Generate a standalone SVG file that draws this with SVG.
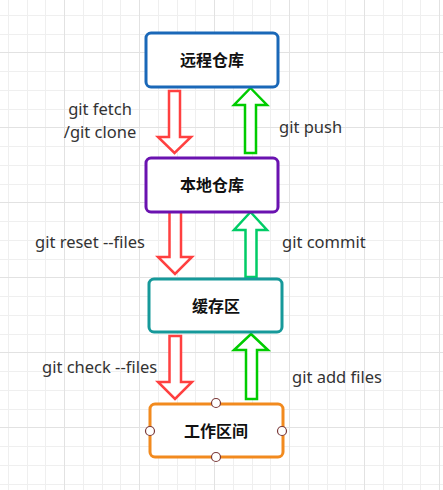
<svg xmlns="http://www.w3.org/2000/svg" width="443" height="490" viewBox="0 0 443 490">
<style>
.minor{stroke:#efefef;stroke-width:1;fill:none}
.major{stroke:#e2e2e2;stroke-width:1;fill:none}
.node rect{fill:#fff;stroke-width:3}
.nlabel{font-family:"Noto Sans CJK SC","Noto Sans",sans-serif;font-size:16px;font-weight:bold;fill:#111;text-anchor:middle}
.elabel{font-family:"Noto Sans","Open Sans",sans-serif;font-size:16.5px;fill:#333}
.arr{fill:#fff;stroke-width:2.5;stroke-linejoin:miter}
.red{stroke:#ff4040}
.grn{stroke:#00cc00}
.grn2{stroke:#00cc66}
.pt{fill:#fff;stroke:#7a3a3a;stroke-width:1.2}
</style>
<rect width="443" height="490" fill="#fff"/>
<g id="grid">
<path class="minor" d="M8.5 0V490M27.5 0V490M45.5 0V490M83.5 0V490M102.5 0V490M120.5 0V490M158.5 0V490M177.5 0V490M195.5 0V490M233.5 0V490M252.5 0V490M270.5 0V490M308.5 0V490M327.5 0V490M345.5 0V490M383.5 0V490M402.5 0V490M420.5 0V490M0 15.5H443M0 34.5H443M0 71.5H443M0 90.5H443M0 109.5H443M0 146.5H443M0 165.5H443M0 184.5H443M0 221.5H443M0 240.5H443M0 259.5H443M0 296.5H443M0 315.5H443M0 334.5H443M0 371.5H443M0 390.5H443M0 409.5H443M0 446.5H443M0 465.5H443M0 484.5H443"/>
<path class="major" d="M64.5 0V490M139.5 0V490M214.5 0V490M289.5 0V490M364.5 0V490M439.5 0V490M0 52.5H443M0 127.5H443M0 202.5H443M0 277.5H443M0 352.5H443M0 427.5H443"/>
</g>
<g id="connectors">
<polygon class="arr red" points="169,91 180,91 180,137 191,137 174.5,153 158,137 169,137"/>
<polygon class="arr grn" points="250.5,88 267,105 256,105 256,153 245,153 245,105 234,105"/>
<polygon class="arr red" points="169.5,211 181,211 181,257 192,257 175,274 158,257 169.5,257"/>
<polygon class="arr grn2" points="250.5,212 267,230 256.5,230 256.5,277 245.5,277 245.5,230 234,230"/>
<polygon class="arr red" points="169.5,336 181,336 181,382 192,382 175,399 158,382 169.5,382"/>
<polygon class="arr grn" points="251,334 268,350 257,350 257,399 246,399 246,350 234,350"/>
<text class="elabel" x="100" y="115" text-anchor="middle" font-size="16">git fetch</text>
<text class="elabel" x="100" y="138" text-anchor="middle" font-size="16">/git clone</text>
<text class="elabel" x="279" y="133">git push</text>
<text class="elabel" x="35" y="248">git reset --files</text>
<text class="elabel" x="282" y="248">git commit</text>
<text class="elabel" x="42" y="373">git check --files</text>
<text class="elabel" x="292" y="383">git add files</text>
</g>
<g id="remote" class="node">
<rect x="146" y="33" width="132" height="54" rx="5" stroke="#1a68b8"/>
<text class="nlabel" x="212" y="66">远程仓库</text>
</g>
<g id="local" class="node">
<rect x="146" y="158" width="132" height="54" rx="5" stroke="#6a12b0"/>
<text class="nlabel" x="212" y="191">本地仓库</text>
</g>
<g id="stage" class="node">
<rect x="149" y="279" width="133" height="53" rx="5" stroke="#16999a"/>
<text class="nlabel" x="216" y="312">缓存区</text>
</g>
<g id="work" class="node">
<rect x="150" y="404" width="133" height="53" rx="5" stroke="#f28a1e"/>
<text class="nlabel" x="216" y="437">工作区间</text>
<circle class="pt" cx="216" cy="403" r="4.5"/>
<circle class="pt" cx="216" cy="457" r="4.5"/>
<circle class="pt" cx="150" cy="431" r="4.5"/>
<circle class="pt" cx="282" cy="431" r="4.5"/>
</g>
</svg>
